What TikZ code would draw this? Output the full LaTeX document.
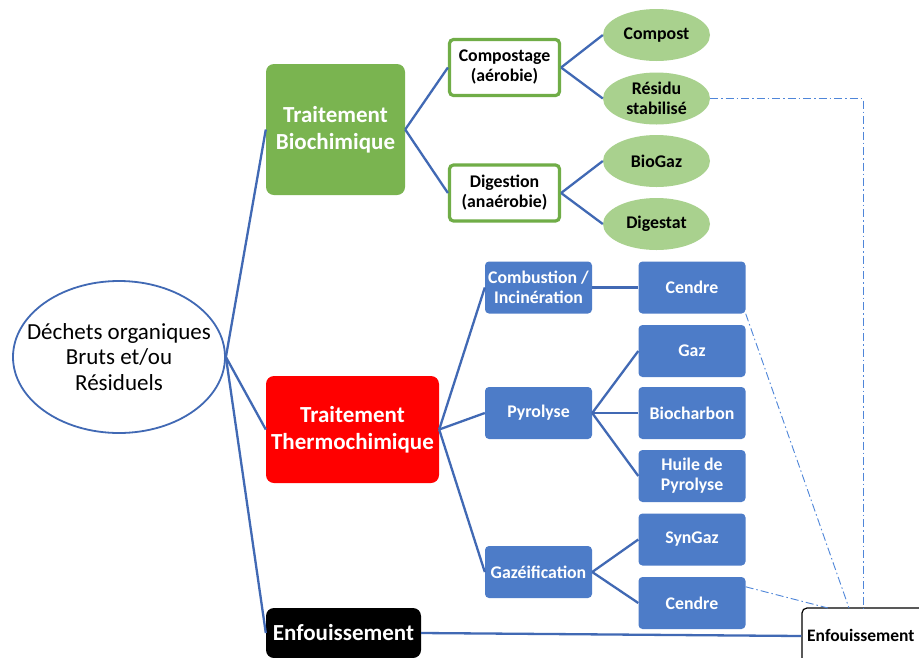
\documentclass[tikz,border=0pt]{standalone}
\usepackage{fontspec}
\setmainfont{Carlito}
\usetikzlibrary{calc,shapes.geometric}
\definecolor{lnblue}{HTML}{4169B4}
\definecolor{dashblue}{HTML}{4F86D9}
\definecolor{bgreen}{HTML}{7AB450}
\definecolor{lgreen}{HTML}{A9D18E}
\definecolor{bblue}{HTML}{4D7CC8}
\definecolor{gborder}{HTML}{70AD47}
\tikzset{
  conn/.style={draw=lnblue, line width=2.3pt},
  dd/.style={draw=dashblue, line width=0.9pt, dash pattern=on 8pt off 3pt on 1.5pt off 3pt},
  bigbox/.style={rounded corners=8pt, align=center, text=white, font=\bfseries\fontsize{23}{26.5}\selectfont, inner sep=0pt},
  smallfont/.style={font=\bfseries\fontsize{17.8}{20}\selectfont},
  procbox/.style={smallfont, draw=gborder, line width=3.2pt, fill=white, rounded corners=4pt, align=center, minimum width=110pt, minimum height=56pt, inner sep=0pt},
  prodell/.style={smallfont, ellipse, fill=lgreen, align=center, minimum width=107pt, minimum height=52pt, inner xsep=-20pt, inner ysep=0pt},
  bluebox/.style={smallfont, fill=bblue, rounded corners=4pt, align=center, text=white, minimum width=107pt, minimum height=52pt, inner sep=0pt},
}
\begin{document}
\begin{tikzpicture}[x=1pt,y=-1pt]
\useasboundingbox (0,0) rectangle (919,657);
\fill[white] (0,0) rectangle (919,657);
% root
\node[ellipse, draw=lnblue, line width=1.8pt, minimum width=212pt, minimum height=152pt, inner xsep=-22pt, inner ysep=0pt, align=center, font=\fontsize{23}{25.7}\selectfont] (root) at (119,357) {Déchets organiques\\Bruts et/ou\\Résiduels};
% main boxes
\node[bigbox, fill=bgreen, minimum width=139pt, minimum height=131pt] (bio) at (335.5,129.5) {Traitement\\Biochimique};
\node[bigbox, fill=red, minimum width=173pt, minimum height=107pt] (thermo) at (352.5,429.5) {Traitement\\Thermochimique};
\node[bigbox, fill=black, minimum width=155pt, minimum height=50pt] (enf1) at (343.5,633) {Enfouissement};
% bio branch
\node[procbox] (comp) at (504.5,67.5) {Compostage\\(aérobie)};
\node[procbox] (dig) at (504.5,193) {Digestion\\(anaérobie)};
\node[prodell] (compost) at (656.5,35) {Compost};
\node[prodell] (res) at (656.5,98.5) {Résidu\\stabilisé};
\node[prodell] (biogaz) at (656.5,161) {BioGaz};
\node[prodell] (digestat) at (656.5,224) {Digestat};
% thermo branch
\node[bluebox] (combu) at (538.5,287.5) {Combustion /\\Incinération};
\node[bluebox] (pyro) at (538.5,413) {Pyrolyse};
\node[bluebox] (gazei) at (538.5,572) {Gazéification};
\node[bluebox] (cendre1) at (692,287.5) {Cendre};
\node[bluebox] (gaz) at (692,351) {Gaz};
\node[bluebox] (biochar) at (692,413) {Biocharbon};
\node[bluebox] (huile) at (692,476) {Huile de\\Pyrolyse};
\node[bluebox] (syngaz) at (692,539.5) {SynGaz};
\node[bluebox] (cendre2) at (692,603) {Cendre};
% right landfill
\node[draw=black, line width=1.2pt, fill=white, rounded corners=5pt, minimum width=150pt, minimum height=56pt, inner sep=0pt] (enf2) at (877,636) {};
\node[anchor=west, inner sep=0pt, font=\bfseries\fontsize{17.5}{20}\selectfont] (enf2t) at (807,635) {Enfouissement};
\coordinate (ta) at (863,608);
\coordinate (tb) at (849,608);
\coordinate (tc) at (828,608);
% connectors
\draw[conn] (root.east) -- (bio.west);
\draw[conn] (root.east) -- (thermo.west);
\draw[conn] (root.east) -- (enf1.west);
\draw[conn] (bio.east) -- (comp.west);
\draw[conn] (bio.east) -- (dig.west);
\draw[conn] (comp.east) -- (compost.west);
\draw[conn] (comp.east) -- (res.west);
\draw[conn] (dig.east) -- (biogaz.west);
\draw[conn] (dig.east) -- (digestat.west);
\draw[conn] (thermo.east) -- (combu.west);
\draw[conn] (thermo.east) -- (pyro.west);
\draw[conn] (thermo.east) -- (gazei.west);
\draw[conn] (combu.east) -- (cendre1.west);
\draw[conn] (pyro.east) -- (gaz.west);
\draw[conn] (pyro.east) -- (biochar.west);
\draw[conn] (pyro.east) -- (huile.west);
\draw[conn] (gazei.east) -- (syngaz.west);
\draw[conn] (gazei.east) -- (cendre2.west);
\draw[conn] (enf1.east) -- (enf2.west);
% dash-dot
\draw[dd] (res.east) -| (ta);
\draw[dd] (cendre1.south east) -- (tb);
\draw[dd] ($(cendre2.north east)+(0,10)$) -- (tc);
\end{tikzpicture}
\end{document}
